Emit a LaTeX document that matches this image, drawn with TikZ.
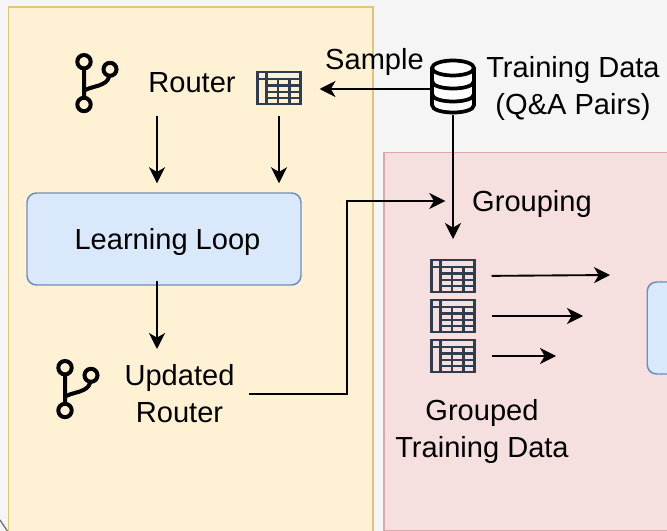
\documentclass[tikz,border=0pt]{standalone}
\usepackage{fontspec}
\setmainfont{Liberation Sans}
\usetikzlibrary{arrows.meta}
\definecolor{bggrey}{HTML}{F5F5F5}
\definecolor{yfill}{HTML}{FFF2D4}
\definecolor{ydraw}{HTML}{DFC678}
\definecolor{pfill}{HTML}{F6DFDF}
\definecolor{pdraw}{HTML}{DBA6A6}
\definecolor{bfill}{HTML}{DAE8FC}
\definecolor{bdraw}{HTML}{6C8EBF}
\definecolor{tabcol}{HTML}{2F3D4F}
\tikzset{
  x=0.75pt,y=-0.75pt,
  lbl/.style={font=\fontsize{21.8pt}{27.75pt}\selectfont,align=center,inner sep=0pt,text height=15.75pt,text depth=0pt,text=black},
  lbltwo/.style={lbl,text height=43.5pt},
  bluebox/.style={draw=bdraw,fill=bfill,line width=1.1pt,rounded corners=7pt,inner sep=0pt},
  arr/.style={line width=1.4pt,-{Stealth[length=12pt,width=12pt,inset=3.5pt]}},
  ghost/.style={inner sep=0pt,outer sep=0pt},
  tableicon/.pic={
    \draw[tabcol,line width=1.8pt] (-21.5,-16) rectangle (21.5,16);
    \draw[tabcol,line width=1.6pt]
      (-21.5,-9)--(21.5,-9) (-12.5,-16)--(-12.5,16)
      (-12.5,-2.5)--(21.5,-2.5) (-12.5,4)--(21.5,4) (-12.5,10)--(21.5,10)
      (-1,-9)--(-1,16) (10.5,-9)--(10.5,16);
  },
  dbicon/.pic={
    \draw[black,line width=2.8pt,fill=white]
      (-21,-21)--(-21,16) .. controls (-21,26) and (21,26) .. (21,16)--(21,-21);
    \draw[black,line width=2.8pt,fill=white] (0,-21) circle[x radius=21,y radius=7.5];
    \draw[black,line width=2.8pt]
      (-21,-8) .. controls (-21,2) and (21,2) .. (21,-8)
      (-21,5) .. controls (-21,15) and (21,15) .. (21,5);
  },
  branchicon/.pic={
    \draw[black,line width=3pt] (0,0) circle[radius=6.7] (26,7.6) circle[radius=6.5] (0,42.8) circle[radius=6.7];
    \draw[black,line width=3pt] (0,6.7)--(0,36)
      (0,29) .. controls (7,25) and (14,25) .. (19,22) .. controls (23,20) and (25,17) .. (25,14);
  },
}
\begin{document}
\begin{tikzpicture}
\useasboundingbox (0,0) rectangle (667,531);
\clip (0,0) rectangle (667,531);
\fill[bggrey] (0,0) rectangle (667,531);
\draw[black!55,line width=1pt] (0,520)--(8,532);
% panels
\draw[draw=ydraw,fill=yfill,line width=1.1pt] (8.5,7) rectangle (373,545);
\draw[draw=pdraw,fill=pfill,line width=1.1pt] (384,152.5) rectangle (690,530.5);
% boxes
\node[bluebox,minimum width=205.5pt,minimum height=69pt] (loop) at (164,239) {};
\node[lbl] (looptext) at (167.5,239) {Learning Loop};
\node[bluebox,minimum width=105pt,minimum height=69pt,anchor=west] (rightbox) at (646.5,328) {};
% icon anchors
\node[ghost,minimum width=33.75pt,minimum height=25.5pt] (tbl) at (279,88) {};
\node[ghost,minimum width=33.75pt,minimum height=39pt] (db) at (453,89) {};
\node[ghost,minimum width=33.75pt,minimum height=25.5pt] (g1) at (453,276) {};
\node[ghost,minimum width=33.75pt,minimum height=25.5pt] (g2) at (453,316) {};
\node[ghost,minimum width=33.75pt,minimum height=25.5pt] (g3) at (453,356) {};
\node[ghost] (branchA) at (84,61.7) {};
\node[ghost] (branchB) at (65,367.7) {};
\pic at (tbl) {tableicon};
\pic at (g1) {tableicon};
\pic at (g2) {tableicon};
\pic at (g3) {tableicon};
\pic at (db) {dbicon};
\pic at (branchA) {branchicon};
\pic at (branchB) {branchicon};
% labels
\node[lbl] (router) at (192,82) {Router};
\node[lbl] (sample) at (374.5,59) {Sample};
\node[lbltwo] (train) at (573,85.5) {Training Data\\(Q\&A Pairs)};
\node[lbl] (grouping) at (532,201) {Grouping};
\node[lbltwo,text depth=0.75pt] (updated) at (179.5,394) {Updated\\Router};
\node[lbltwo] (grouped) at (482,428.5) {Grouped\\Training Data};
% free ends
\coordinate (routerout) at (157,116);
\coordinate (loopout) at (157,281);
\coordinate (updatedin) at (157,349);
\coordinate (bend) at (347,300);
\coordinate (gout1) at (610,275);
\coordinate (gout2) at (583,316);
\coordinate (gout3) at (556,356);
% connectors
\draw[arr,shorten >=13.5pt] (db.west) -- (db.west -| tbl.east) ;
\draw[arr,shorten >=15pt] (db.south) -- (g1.north);
\draw[arr,shorten >=6.75pt] (routerout) -- (routerout |- loop.north);
\draw[arr,shorten <=8pt,shorten >=6.75pt] (tbl.south) -- (tbl.south |- loop.north);
\draw[arr] (loopout) -- (updatedin);
\draw[arr,shorten <=10.5pt,shorten >=20pt] (updated.east) -| (bend) |- (grouping.west);
\draw[arr,shorten <=12pt] (g1.east) -- (gout1);
\draw[arr,shorten <=12pt] (g2.east) -- (gout2);
\draw[arr,shorten <=12pt] (g3.east) -- (gout3);
\end{tikzpicture}
\end{document}
